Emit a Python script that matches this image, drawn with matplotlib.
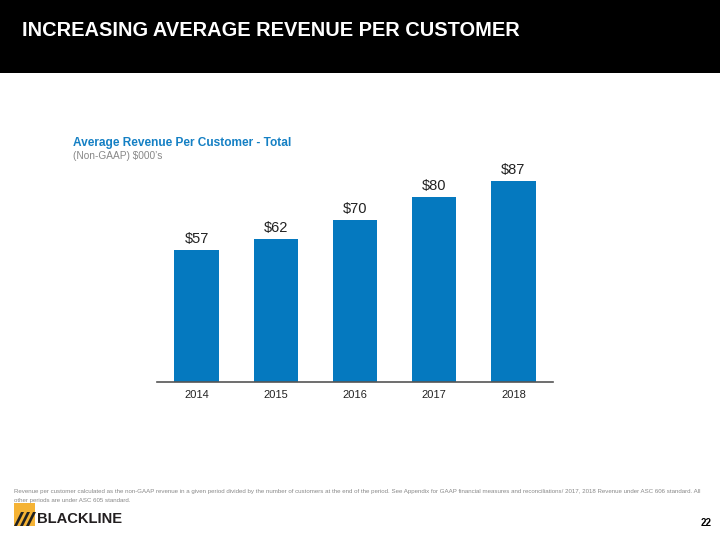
import matplotlib

matplotlib.use("Agg")

import matplotlib.pyplot as plt
from matplotlib.patches import Rectangle, Polygon

plt.rcParams["font.family"] = ["Liberation Sans", "DejaVu Sans"]

YEARS = ["2014", "2015", "2016", "2017", "2018"]
REVENUE_PER_CUSTOMER = [57, 62, 70, 80, 87]
VALUE_LABELS = ["$57", "$62", "$70", "$80", "$87"]

TITLE = "INCREASING AVERAGE REVENUE PER CUSTOMER"
CHART_TITLE = "Average Revenue Per Customer - Total"
CHART_SUBTITLE = "(Non-GAAP) $000\u2019s"
FOOTNOTE = (
    "Revenue per customer calculated as the non-GAAP revenue in a given period divided by the number of "
    "customers at the end of the period. See Appendix for GAAP financial measures and reconciliations/ "
    "2017, 2018 Revenue under ASC 606 standard. All\nother periods are under ASC 605 standard."
)
PAGE_NUMBER = "22"

BAR_COLOR = "#0579BF"
BLUE_TEXT = "#1580C4"


def main() -> None:
    fig = plt.figure(figsize=(7.2, 5.4), dpi=100)

    # black header band
    fig.patches.append(Rectangle((0, 1 - 73 / 540), 1, 73 / 540, transform=fig.transFigure,
                                 facecolor="black", edgecolor="none", zorder=0))
    fig.text(22 / 720, 1 - 30 / 540, TITLE, color="white", fontsize=14.4, fontweight="bold",
             va="center", ha="left")

    ax = fig.add_axes([157 / 720, 1 - 382 / 540, 396 / 720, 231 / 540])
    x = range(len(YEARS))
    bars = ax.bar(x, REVENUE_PER_CUSTOMER, width=0.56, color=BAR_COLOR, zorder=2)
    for bar, label in zip(bars, VALUE_LABELS):
        ax.annotate(label, (bar.get_x() + bar.get_width() / 2, bar.get_height()),
                    xytext=(0, 3), textcoords="offset points", ha="center", va="bottom",
                    fontsize=10.5, color="#222222")

    ax.set_xlim(-0.5, 4.5)
    ax.set_ylim(0, 100)
    ax.set_xticks(list(x))
    ax.set_xticklabels(YEARS, fontsize=8, color="#222222")
    ax.tick_params(axis="x", length=0, pad=6)
    ax.set_yticks([])
    for side in ["top", "right", "left"]:
        ax.spines[side].set_visible(False)
    ax.spines["bottom"].set_color("#555555")
    ax.spines["bottom"].set_linewidth(1.2)

    fig.text(73 / 720, 1 - 143 / 540, CHART_TITLE, color=BLUE_TEXT, fontsize=8.6,
             fontweight="bold", va="center")
    fig.text(73 / 720, 1 - 156 / 540, CHART_SUBTITLE, color="#888888", fontsize=7.3, va="center")

    fig.text(14 / 720, 1 - 489 / 540, FOOTNOTE, color="#888888", fontsize=4.45, va="top",
             linespacing=2.0)

    # logo
    fig.patches.append(Rectangle((14 / 720, 1 - 526 / 540), 21 / 720, 23 / 540,
                                 transform=fig.transFigure, facecolor="#F5B335",
                                 edgecolor="none"))
    for dx in [0, 6, 12]:
        fig.patches.append(Polygon([((14 + dx) / 720, 1 - 526 / 540),
                                    ((17 + dx) / 720, 1 - 526 / 540),
                                    ((24 + dx) / 720, 1 - 512 / 540),
                                    ((21 + dx) / 720, 1 - 512 / 540)],
                                   closed=True, transform=fig.transFigure,
                                   facecolor="#222222", edgecolor="none"))
    fig.text(37 / 720, 1 - 519 / 540, "BLACKLINE", color="#231F20", fontsize=10.6,
             fontweight="bold", va="center")

    fig.text(712 / 720, 1 - 523 / 540, PAGE_NUMBER, color="black", fontsize=7,
             fontweight="bold", ha="right", va="center")

    fig.savefig("out.png", dpi=100)
    plt.close(fig)


if __name__ == "__main__":
    main()
